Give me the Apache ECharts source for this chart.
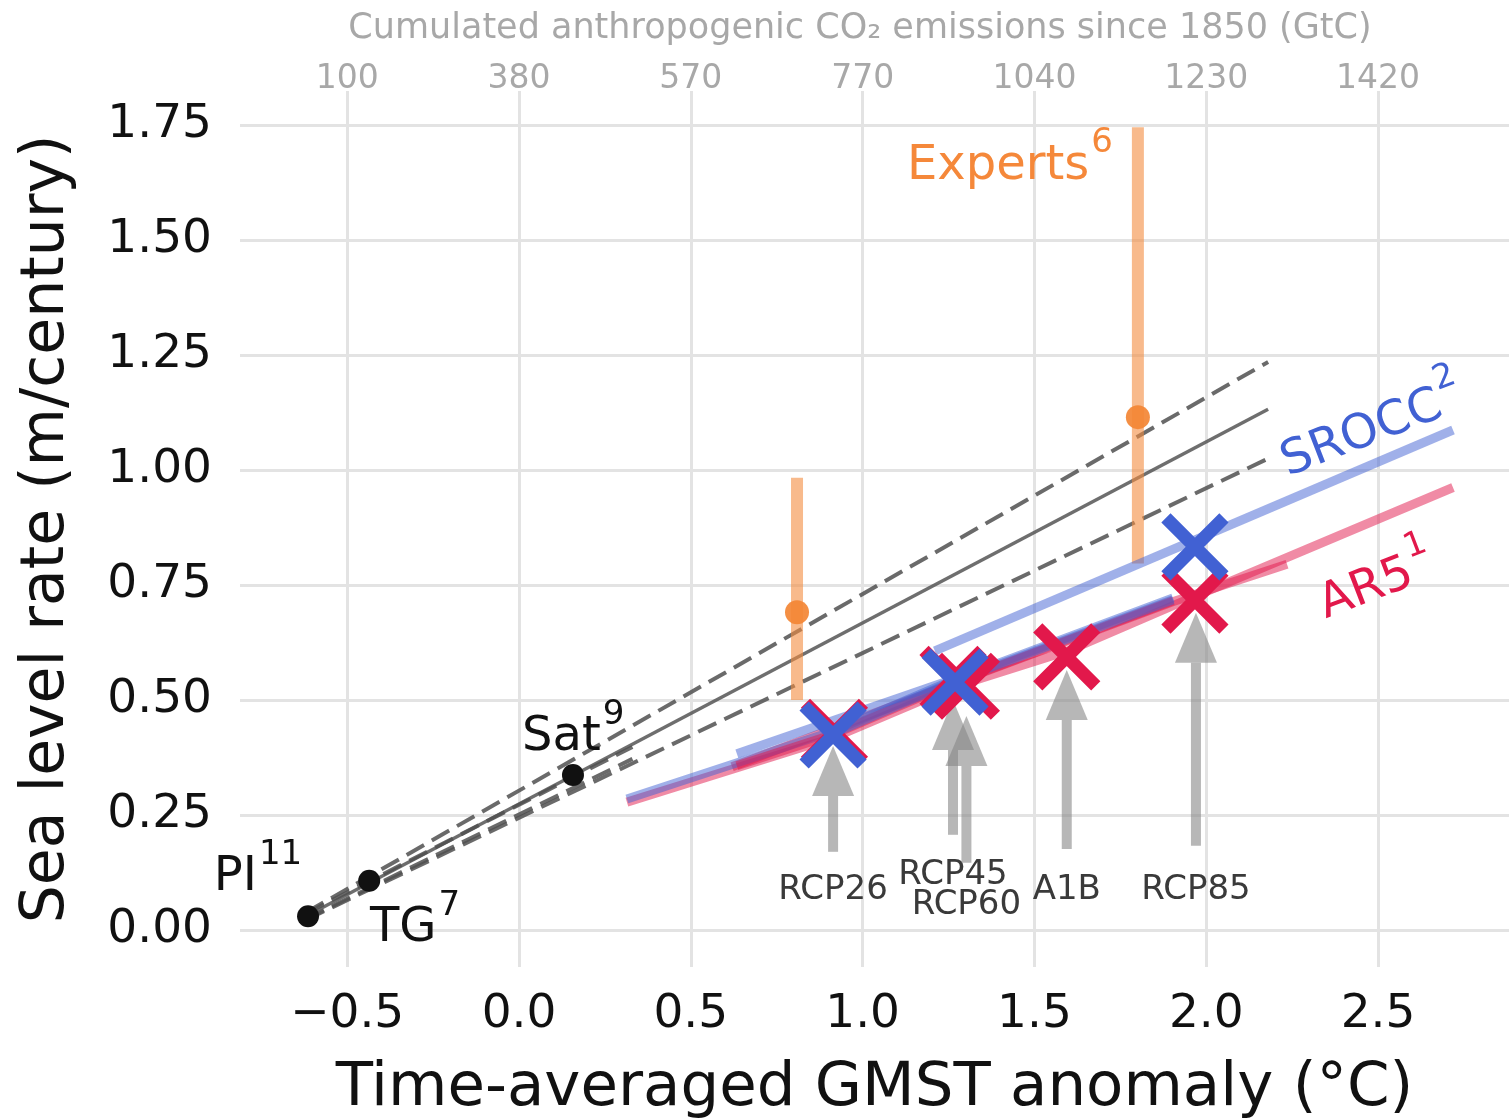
<!DOCTYPE html>
<html>
<head>
<meta charset="utf-8">
<title>Sea level rate vs GMST anomaly</title>
<script src="https://cdn.jsdelivr.net/npm/echarts@6/dist/echarts.min.js"></script>
<style>
  html, body { margin: 0; padding: 0; background: #ffffff; }
  #chart { width: 1509px; height: 1118px; }
</style>
</head>
<body>
<div id="chart"></div>
<script>
// ---------- axis ticks ----------
const gmstTicks = [-0.5, 0, 0.5, 1, 1.5, 2, 2.5];
const co2Ticks = ['100', '380', '570', '770', '1040', '1230', '1420'];
const rateTicks = [0, 0.25, 0.5, 0.75, 1, 1.25, 1.5, 1.75];

// ---------- observational estimates ----------
const obsNames = ['PI', 'TG', 'Sat'];
const obsRefs = ['11', '7', '9'];
const obsGmst = [-0.614, -0.436, 0.157];
const obsRate = [0.030, 0.107, 0.337];

// ---------- linear fit through observations and its range ----------
const fitGmst = [-0.62, 2.18];
const fitRate = [0.030, 1.132];
const fitRateHigh = [0.038, 1.235];
const fitRateLow = [0.022, 1.025];
// fits restricted to the observed period
const obsFitGmst = [-0.62, 0.33];
const obsFitRateHigh = [0.036, 0.398];
const obsFitRateLow = [0.024, 0.372];

// ---------- expert elicitation ----------
const expertGmst = [0.809, 1.801];
const expertMedian = [0.691, 1.115];
const expertLow = [0.500, 0.797];
const expertHigh = [0.983, 1.745];

// ---------- AR5 projections ----------
const ar5GmstA = [0.314, 0.914, 1.263, 1.594, 1.903, 2.718];
const ar5RateA = [0.278, 0.418, 0.528, 0.606, 0.705, 0.962];
const ar5GmstB = [0.620, 1.263, 1.900, 2.235];
const ar5RateB = [0.355, 0.536, 0.713, 0.795];
const ar5GmstC = [0.634, 0.914, 1.263, 1.903];
const ar5RateC = [0.357, 0.425, 0.537, 0.716];

// ---------- SROCC projections ----------
const sroccGmstA = [0.314, 0.914, 1.263, 1.903];
const sroccRateA = [0.285, 0.432, 0.543, 0.722];
const sroccGmstB = [0.634, 1.263];
const sroccRateB = [0.383, 0.545];
const sroccGmstC = [1.210, 2.718];
const sroccRateC = [0.607, 1.087];
const sroccGmstD = [0.914, 1.263, 1.903];
const sroccRateD = [0.427, 0.540, 0.718];

// ---------- scenario markers ----------
const ar5Scen = ['RCP26', 'RCP45', 'RCP60', 'A1B', 'RCP85'];
const ar5ScenGmst = [0.918, 1.263, 1.302, 1.594, 1.967];
const ar5ScenRate = [0.430, 0.545, 0.530, 0.594, 0.717];
const sroccScen = ['RCP26', 'RCP45', 'RCP85'];
const sroccScenGmst = [0.914, 1.269, 1.967];
const sroccScenRate = [0.424, 0.539, 0.833];

// ---------- scenario pointers ----------
const arrowNames = ['RCP26', 'RCP45', 'RCP60', 'A1B', 'RCP85'];
const arrowGmst = [0.914, 1.263, 1.302, 1.594, 1.970];
const arrowBase = [0.170, 0.207, 0.146, 0.176, 0.183];
const arrowTip = [0.400, 0.500, 0.465, 0.565, 0.690];

// ---------- text placement (data coordinates) ----------
const layout = {
  arrowLabelRate: [0.087, 0.120, 0.054, 0.087, 0.087],
  obsLabel: [
    { at: [-0.631, 0.083], align: 'right' },
    { at: [-0.434, -0.028], align: 'left' },
    { at: [0.0087, 0.387], align: 'left' }
  ],
  experts: { at: [1.129, 1.630] },
  srocc: { at: [2.249, 0.963], rotate: 21 },
  ar5: { at: [2.360, 0.654], rotate: 21 }
};

const FONT = 'DejaVu Sans';
const RED = '#e2184b';
const BLUE = '#4161d3';
const ORANGE = '#f5883a';
const INK = '#111111';

const pairs = (xs, ys) => xs.map((x, i) => [x, ys[i]]);

function annotation(at, main, sup, color, opts) {
  return {
    value: at,
    label: {
      show: true,
      position: 'inside',
      align: opts.align || 'left',
      verticalAlign: 'bottom',
      offset: opts.offset || [0, 0],
      rotate: opts.rotate || 0,
      color: color,
      opacity: 1,
      formatter: '{m|' + main + '}{s|' + sup + '}',
      rich: {
        m: { fontFamily: FONT, fontSize: 48, lineHeight: 64, color: color, verticalAlign: 'bottom' },
        s: { fontFamily: FONT, fontSize: 34, lineHeight: 34, color: color, verticalAlign: 'top', padding: [0, 0, 0, 2] }
      }
    }
  };
}

const annotations = [
  annotation(layout.obsLabel[0].at, obsNames[0], obsRefs[0], INK, { align: 'right', offset: [0, 10] }),
  annotation(layout.obsLabel[1].at, obsNames[1], obsRefs[1], INK, { align: 'left', offset: [0, 10] }),
  annotation(layout.obsLabel[2].at, obsNames[2], obsRefs[2], INK, { align: 'left', offset: [0, 10] }),
  annotation(layout.experts.at, 'Experts', '6', ORANGE, { align: 'left', offset: [0, 10] }),
  annotation(layout.srocc.at, 'SROCC', '2', BLUE, { align: 'left', rotate: layout.srocc.rotate }),
  annotation(layout.ar5.at, 'AR5', '1', RED, { align: 'left', rotate: layout.ar5.rotate })
];

const xSymbol = 'path://M0 0L100 100M100 0L0 100';

function curve(name, xs, ys, color, z) {
  return {
    name: name, type: 'line', data: pairs(xs, ys), symbol: 'none', z: z,
    lineStyle: { color: color, width: 9, cap: 'butt' },
    silent: true
  };
}

function fitLine(name, xs, ys, dashed) {
  return {
    name: name, type: 'line', data: pairs(xs, ys), symbol: 'none', z: 2, silent: true,
    lineStyle: dashed
      ? { color: 'rgba(80,80,80,0.85)', width: 4, type: [20, 9], cap: 'butt' }
      : { color: 'rgba(85,85,85,0.85)', width: 3.5 }
  };
}

const AR5_LINE = 'rgba(226,24,75,0.5)';
const SROCC_LINE = 'rgba(65,97,211,0.5)';

const chart = echarts.init(document.getElementById('chart'), null, { renderer: 'canvas' });

const option = {
  animation: false,
  backgroundColor: '#ffffff',
  textStyle: { fontFamily: FONT },
  grid: { left: 240, right: 0, top: 91, bottom: 151, containLabel: false, outerBoundsMode: 'none' },
  xAxis: [
    {
      type: 'value', position: 'bottom', min: -0.812, max: 2.881,
      axisLine: { show: false },
      axisTick: { show: false, customValues: gmstTicks },
      axisLabel: {
        customValues: gmstTicks, fontSize: 47, color: INK, margin: 24, fontFamily: FONT,
        formatter: v => (v < 0 ? '\u2212' : '') + Math.abs(v).toFixed(1)
      },
      splitLine: { show: true, lineStyle: { color: '#e3e3e3', width: 3 } },
      name: 'Time-averaged GMST anomaly (°C)', nameLocation: 'middle', nameGap: 92,
      nameTextStyle: { fontSize: 61, color: INK, fontFamily: FONT }
    },
    {
      type: 'value', position: 'top', min: -0.812, max: 2.881,
      axisLine: { show: false },
      axisTick: { show: false, customValues: gmstTicks },
      axisLabel: {
        customValues: gmstTicks, fontSize: 33, color: '#a8a8a8', margin: -5, fontFamily: FONT,
        formatter: v => co2Ticks[gmstTicks.findIndex(t => Math.abs(t - v) < 1e-6)]
      },
      splitLine: { show: false },
      name: 'Cumulated anthropogenic CO\u2082 emissions since 1850 (GtC)', nameLocation: 'middle', nameGap: 45,
      nameTextStyle: { fontSize: 35, color: '#a8a8a8', fontFamily: FONT, padding: [0, 29, 0, 0] }
    }
  ],
  yAxis: {
    type: 'value', min: -0.0804, max: 1.824,
    axisLine: { show: false },
    axisTick: { show: false, customValues: rateTicks },
    axisLabel: { customValues: rateTicks, fontSize: 47, color: INK, margin: 28, fontFamily: FONT, formatter: v => v.toFixed(2) },
    splitLine: { show: true, lineStyle: { color: '#e3e3e3', width: 3 } },
    name: 'Sea level rate (m/century)', nameLocation: 'middle', nameGap: 163,
    nameTextStyle: { fontSize: 60, color: INK, fontFamily: FONT }
  },
  series: [
    // observational fit and range
    fitLine('fit', fitGmst, fitRate, false),
    fitLine('fit high', fitGmst, fitRateHigh, true),
    fitLine('fit low', fitGmst, fitRateLow, true),
    fitLine('obs fit high', obsFitGmst, obsFitRateHigh, true),
    fitLine('obs fit low', obsFitGmst, obsFitRateLow, true),
    // expert ranges
    {
      name: 'Experts', type: 'custom', z: 3, silent: true,
      data: expertGmst.map((x, i) => [x, expertLow[i], expertHigh[i], expertMedian[i]]),
      renderItem: (params, api) => {
        const lo = api.coord([api.value(0), api.value(1)]);
        const hi = api.coord([api.value(0), api.value(2)]);
        const md = api.coord([api.value(0), api.value(3)]);
        return {
          type: 'group',
          children: [
            { type: 'line', shape: { x1: lo[0], y1: lo[1], x2: hi[0], y2: hi[1] },
              style: { stroke: 'rgba(244,140,64,0.6)', lineWidth: 12, lineCap: 'butt' } },
            { type: 'circle', shape: { cx: md[0], cy: md[1], r: 12 },
              style: { fill: 'rgba(243,134,52,0.92)' } }
          ]
        };
      }
    },
    // projection curves (translucent, so overlaps blend)
    curve('AR5 a', ar5GmstA, ar5RateA, AR5_LINE, 4),
    curve('AR5 b', ar5GmstB, ar5RateB, AR5_LINE, 4),
    curve('SROCC a', sroccGmstA, sroccRateA, SROCC_LINE, 4),
    curve('AR5 c', ar5GmstC, ar5RateC, AR5_LINE, 4),
    curve('SROCC d', sroccGmstD, sroccRateD, SROCC_LINE, 4),
    curve('SROCC b', sroccGmstB, sroccRateB, SROCC_LINE, 4),
    curve('SROCC c', sroccGmstC, sroccRateC, SROCC_LINE, 4),
    // scenario pointers
    {
      name: 'scenarios', type: 'custom', z: 5, silent: true,
      data: arrowGmst.map((x, i) => [x, arrowBase[i], arrowTip[i], layout.arrowLabelRate[i], i]),
      renderItem: (params, api) => {
        const x = api.value(0);
        const base = api.coord([x, api.value(1)]);
        const tip = api.coord([x, api.value(2)]);
        const lab = api.coord([x, api.value(3)]);
        const headLen = 50, headHalf = 21, shaftHalf = 5;
        const fill = 'rgba(135,135,135,0.6)';
        return {
          type: 'group',
          children: [
            { type: 'rect', shape: { x: base[0] - shaftHalf, y: tip[1] + headLen, width: shaftHalf * 2, height: base[1] - tip[1] - headLen },
              style: { fill: fill } },
            { type: 'polygon', shape: { points: [[tip[0], tip[1]], [tip[0] - headHalf, tip[1] + headLen], [tip[0] + headHalf, tip[1] + headLen]] },
              style: { fill: fill } },
            { type: 'text', x: lab[0], y: lab[1],
              style: { text: arrowNames[api.value(4)], fontFamily: FONT, fontSize: 34, fill: '#3a3a3a', align: 'center', verticalAlign: 'middle' } }
          ]
        };
      }
    },
    // scenario markers
    {
      name: 'AR5', type: 'scatter', z: 6, silent: true, symbol: xSymbol, symbolSize: 58,
      data: pairs(ar5ScenGmst, ar5ScenRate),
      itemStyle: { color: 'transparent', borderColor: RED, borderWidth: 13, opacity: 1 }
    },
    {
      name: 'SROCC', type: 'scatter', z: 7, silent: true, symbol: xSymbol, symbolSize: 58,
      data: pairs(sroccScenGmst, sroccScenRate),
      itemStyle: { color: 'transparent', borderColor: BLUE, borderWidth: 13, opacity: 1 }
    },
    // observations
    {
      name: 'observations', type: 'scatter', z: 8, silent: true, symbol: 'circle', symbolSize: 22,
      data: pairs(obsGmst, obsRate),
      itemStyle: { color: '#111111', opacity: 1 }
    },
    // text annotations
    {
      name: 'annotations', type: 'scatter', z: 10, silent: true, symbolSize: 0, clip: false,
      itemStyle: { opacity: 1 },
      data: annotations
    }
  ]
};

chart.setOption(option);
</script>
</body>
</html>
